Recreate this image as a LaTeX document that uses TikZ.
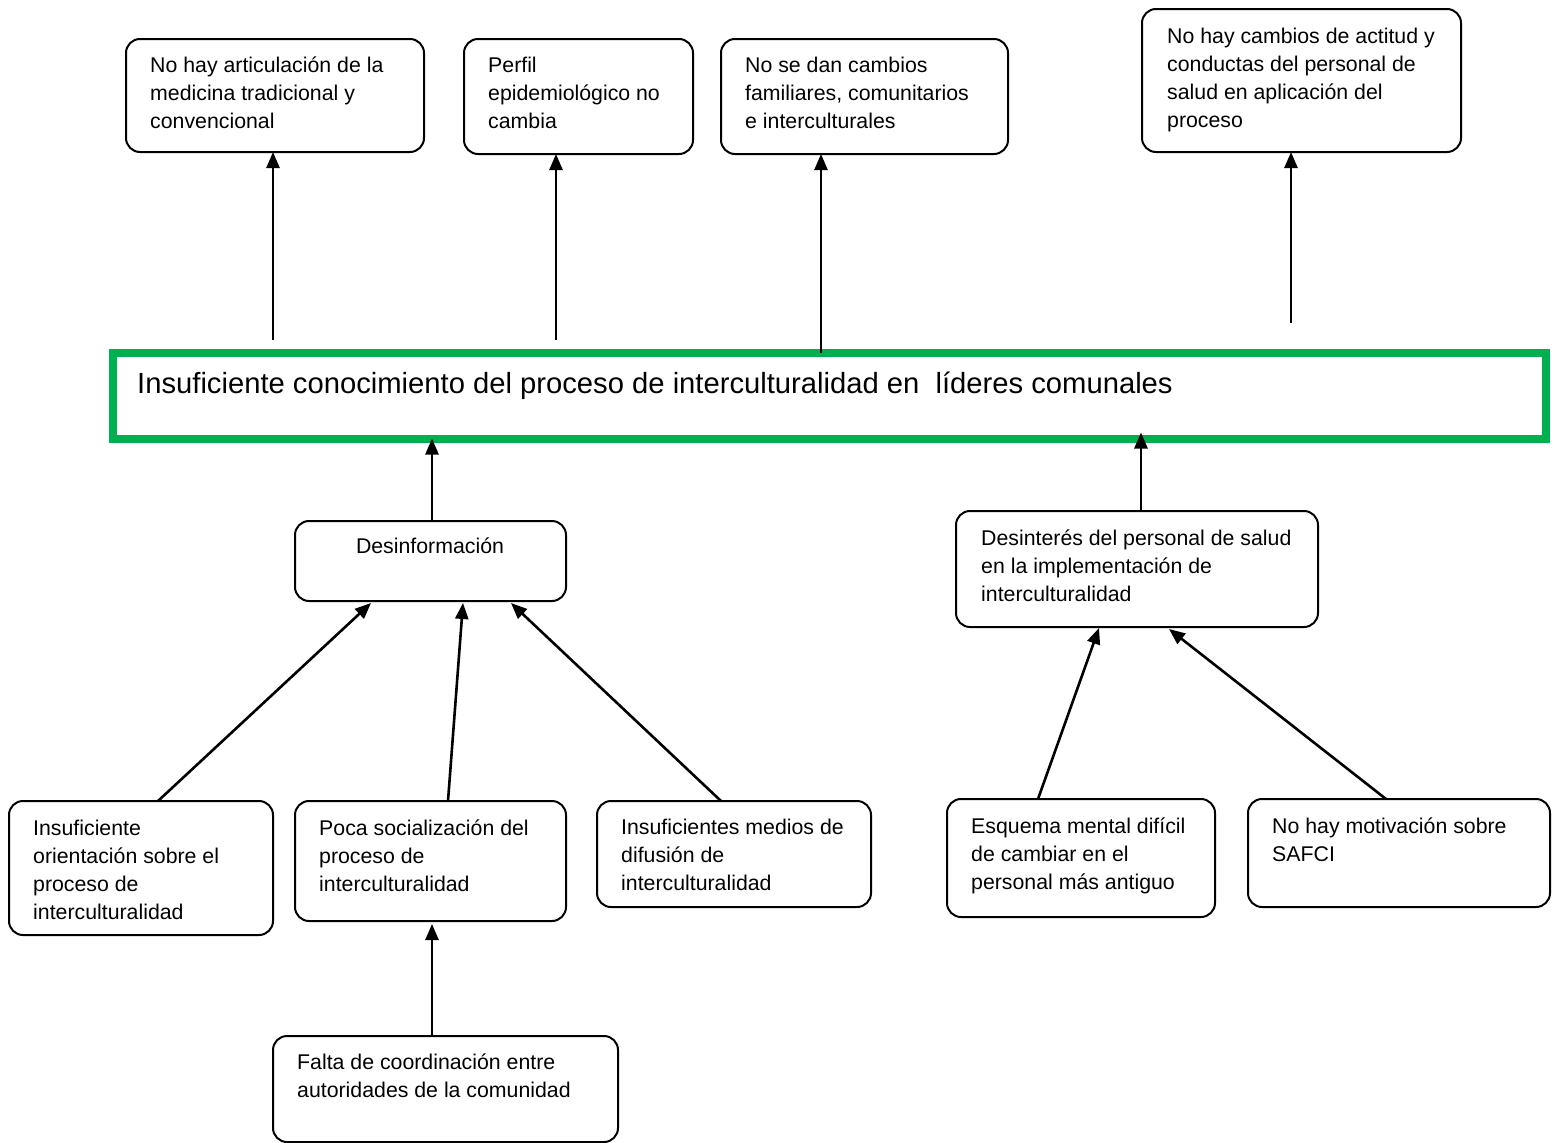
\documentclass[tikz,border=0pt]{standalone}
\usepackage{fontspec}
\setmainfont{Liberation Sans}
\usetikzlibrary{arrows.meta,calc}
\definecolor{wordgreen}{HTML}{00B050}
\newcommand\smallfs{\fontsize{21.3}{28}\selectfont}
\newcommand\bigfs{\fontsize{29.2}{34}\selectfont}
\begin{document}
\begin{tikzpicture}[x=1pt,y=-1pt,
  box/.style={draw, line width=2pt, rounded corners=14pt, anchor=north west, inner sep=0pt, outer sep=0pt},
  txt/.style={anchor=north west, inner sep=0pt, align=left, font=\smallfs},
  arr/.style={-{Triangle[length=16pt,width=13pt]}, line width=2.6pt}]
\useasboundingbox[fill=white] (0,0) rectangle (1556,1143);

% effect boxes
\node[box, minimum width=298pt, minimum height=113pt] (b1) at (126,39) {};
\node[box, minimum width=229pt, minimum height=115pt] (b2) at (464,39) {};
\node[box, minimum width=287pt, minimum height=115pt] (b3) at (721,39) {};
\node[box, minimum width=319pt, minimum height=143pt] (b4) at (1142,9) {};
\node[txt] (t1) at (150,52.9) {\strut No hay articulación de la\\medicina tradicional y\\convencional};
\node[txt] (t2) at (488,52.9) {\strut Perfil\\epidemiológico no\\cambia};
\node[txt] (t3) at (745,52.9) {\strut No se dan cambios\\familiares, comunitarios\\e interculturales};
\node[txt] (t4) at (1167,23.9) {\strut No hay cambios de actitud y\\conductas del personal de\\salud en aplicación del\\proceso};

% main problem
\node[draw=wordgreen, line width=8pt, minimum width=1433pt, minimum height=85.5pt, anchor=north west, inner sep=0pt, outer sep=0pt] (main) at (113,353) {};
\node[anchor=base west, inner sep=0pt, font=\bigfs] (tm) at (137,393.5) {Insuficiente conocimiento del proceso de interculturalidad en\ \ líderes comunales};

% causes
\node[box, minimum width=271pt, minimum height=80pt] (d) at (295,521) {};
\node[anchor=base, inner sep=0pt, font=\smallfs] (td) at (430,553.5) {Desinformación};
\node[box, minimum width=362pt, minimum height=116pt] (b6) at (956,511) {};
\node[txt] (t6) at (981,525.9) {\strut Desinterés del personal de salud\\en la implementación de\\interculturalidad};

\node[box, minimum width=264pt, minimum height=134pt] (b7) at (9,801) {};
\node[txt] (t7) at (33,815.9) {\strut Insuficiente\\orientación sobre el\\proceso de\\interculturalidad};
\node[box, minimum width=271pt, minimum height=120pt] (b8) at (295,801) {};
\node[txt] (t8) at (319,815.9) {\strut Poca socialización del\\proceso de\\interculturalidad};
\node[box, minimum width=274pt, minimum height=106pt] (b9) at (597,801) {};
\node[txt] (t9) at (621,814.9) {\strut Insuficientes medios de\\difusión de\\interculturalidad};
\node[box, minimum width=268pt, minimum height=118pt] (b10) at (947,799) {};
\node[txt] (t10) at (971,813.9) {\strut Esquema mental difícil\\de cambiar en el\\personal más antiguo};
\node[box, minimum width=302pt, minimum height=108pt] (b11) at (1248,799) {};
\node[txt] (t11) at (1272,813.9) {\strut No hay motivación sobre\\SAFCI};
\node[box, minimum width=345pt, minimum height=106pt] (b12) at (273,1036) {};
\node[txt] (t12) at (297,1049.9) {\strut Falta de coordinación entre\\autoridades de la comunidad};

% free starts of effect arrows
\coordinate (s1) at (273,340);
\coordinate (s2) at (556,340);
\coordinate (s4) at (1291,323);

% arrows to effects
\draw[arr] (s1) -- (s1 |- b1.south);
\draw[arr] (s2) -- (s2 |- b2.south);
\draw[arr] (main.north -| 821,0) -- (b3.south -| 821,0);
\draw[arr] (s4) -- (s4 |- b4.south);

% arrows to main
\draw[arr] ($(d.north west)+(137,0)$) -- (main.south -| {$(d.north west)+(137,0)$});
\draw[arr] ($(b6.north west)+(185,0)$) -- ($(main.south -| b6.north west)+(185,-6)$);

% arrows to Desinformacion
\draw[arr] ($(b7.north west)+(149,0)$) -- ($(d.south west)+(76,2)$);
\draw[arr] ($(b8.north west)+(153,0)$) -- ($(d.south west)+(168,2)$);
\draw[arr] ($(b9.north west)+(124,0)$) -- ($(d.south west)+(216,2)$);

% arrows to Desinteres
\draw[arr] ($(b10.north west)+(91,0)$) -- ($(b6.south west)+(143,1)$);
\draw[arr] ($(b11.north west)+(138,0)$) -- ($(b6.south west)+(213,2)$);

% arrow to Poca socializacion
\draw[arr] ($(b12.north west)+(159,0)$) -- ($(b8.south west)+(137,3)$);
\end{tikzpicture}
\end{document}
